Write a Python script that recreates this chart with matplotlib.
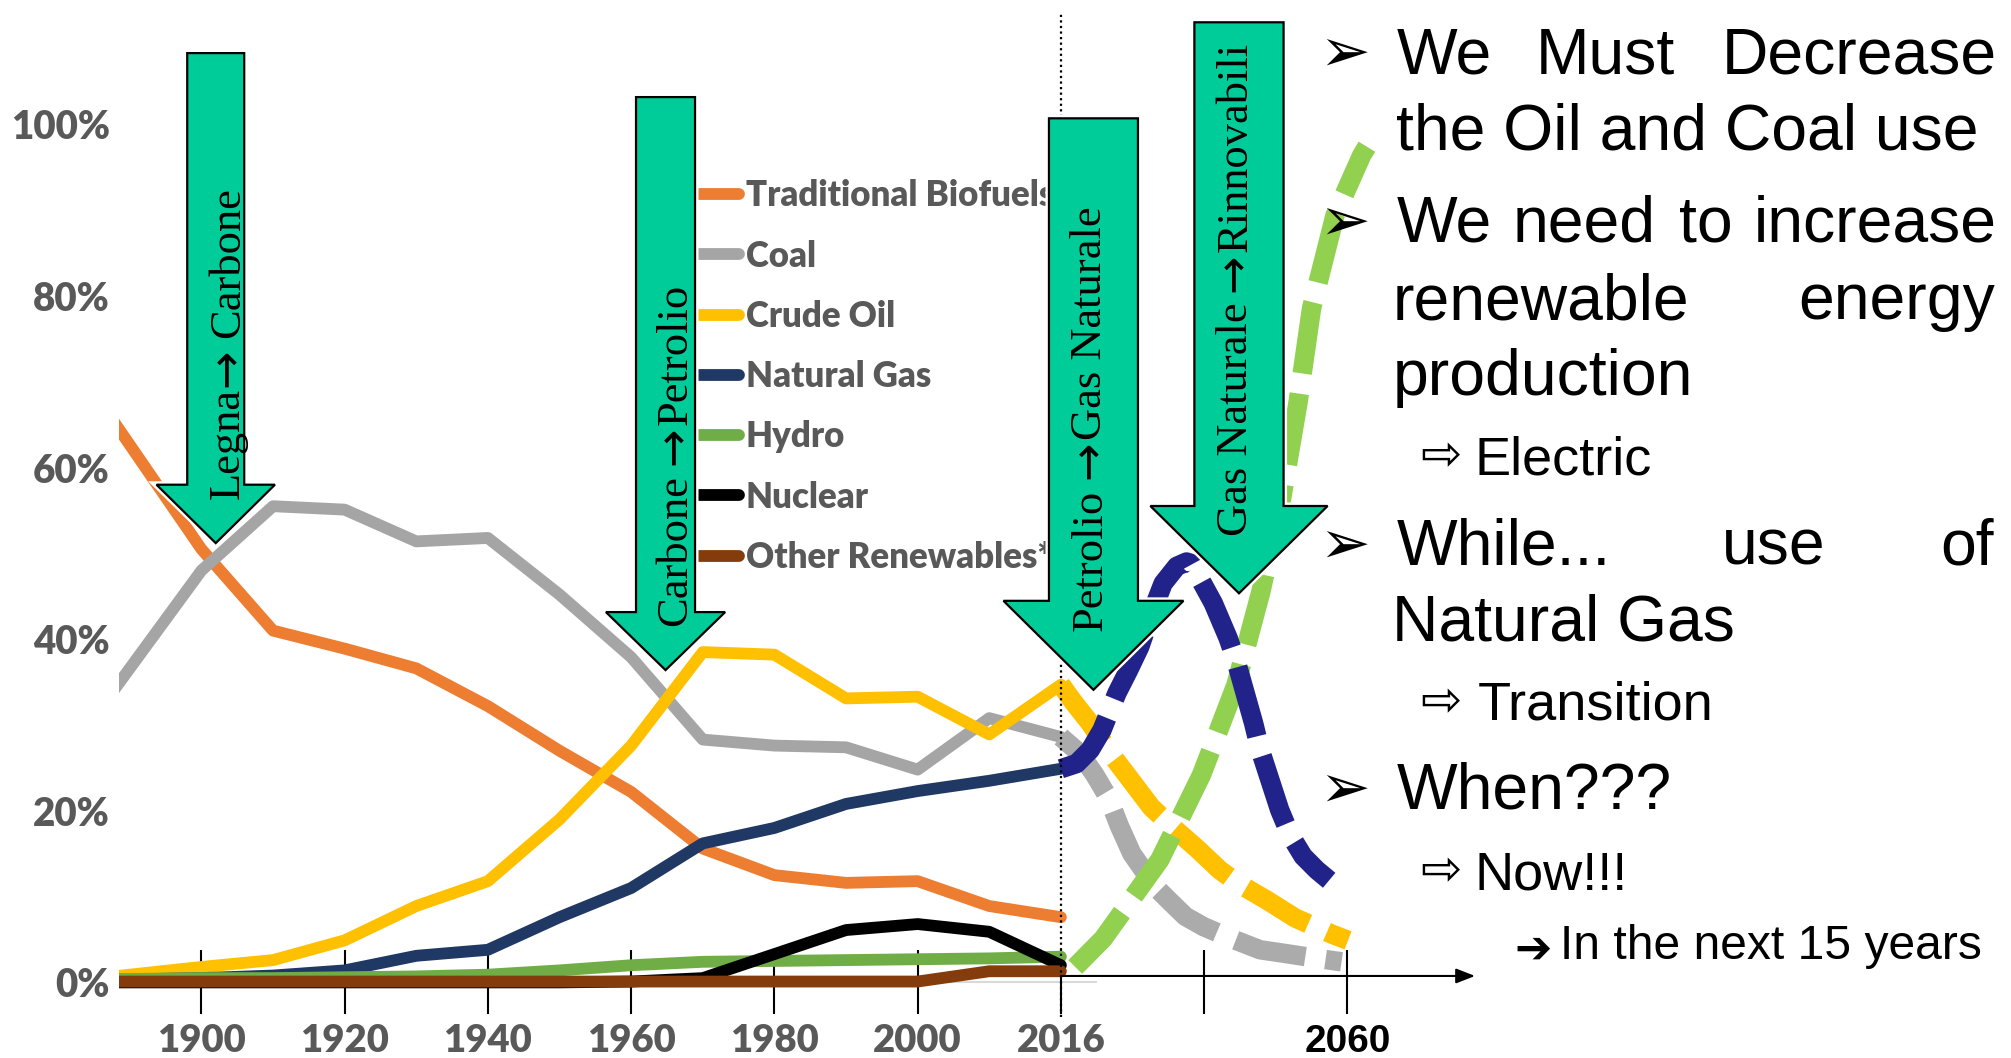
import numpy as np
import matplotlib
matplotlib.use("Agg")
import matplotlib.pyplot as plt
from matplotlib import transforms as mtransforms
from matplotlib import patheffects
from matplotlib.patches import Polygon
from matplotlib.textpath import TextPath
from matplotlib.font_manager import FontProperties

# ------------------------------------------------------------------ data
# Share of world primary energy consumption (%)
years = [1880, 1900, 1910, 1920, 1930, 1940, 1950, 1960, 1970, 1980, 1990, 2000, 2010, 2016]
traditional_biofuels = [74.8, 50.5, 41.0, 38.9, 36.6, 32.2, 27.0, 22.2, 15.6, 12.5, 11.6, 11.8, 8.9, 7.6]
coal = [25.2, 48.0, 55.5, 55.1, 51.4, 51.8, 45.2, 37.9, 28.3, 27.6, 27.4, 24.8, 30.8, 28.6]
crude_oil = [0.0, 1.8, 2.6, 4.9, 8.9, 11.8, 19.0, 27.6, 38.5, 38.2, 33.1, 33.3, 28.9, 34.7]
natural_gas = [0.2, 0.5, 0.8, 1.4, 3.1, 3.8, 7.6, 11.0, 16.2, 18.0, 20.8, 22.3, 23.5, 24.9]
hydro = [0.3, 0.5, 0.5, 0.6, 0.7, 0.9, 1.4, 2.0, 2.4, 2.5, 2.6, 2.7, 2.8, 3.0]
nuclear = [0.0, 0.0, 0.0, 0.0, 0.0, 0.0, 0.0, 0.1, 0.5, 3.3, 6.1, 6.8, 5.9, 2.0]
other_renewables = [0.1, 0.1, 0.1, 0.1, 0.1, 0.1, 0.1, 0.1, 0.1, 0.1, 0.1, 0.1, 1.3, 1.3]

series_names = ["Traditional Biofuels", "Coal", "Crude Oil", "Natural Gas",
                "Hydro", "Nuclear", "Other Renewables*"]
series_colors = ["#ED7D31", "#A5A5A5", "#FFC000", "#203864",
                 "#70AD47", "#000000", "#843C0C"]

# Transition outlook 2016-2060 (%)
coal_outlook_years = [2016.0, 2018.9, 2021.2, 2023.3, 2025.0, 2026.9, 2030.4, 2032.8,
                      2035.1, 2037.9, 2042.2, 2046.6, 2050.2, 2054.5, 2059.1]
coal_outlook = [28.6, 26.7, 24.2, 21.5, 18.2, 15.0, 11.2, 9.4,
                7.7, 6.5, 5.1, 3.8, 3.4, 2.9, 2.4]

oil_outlook_years = [2016.0, 2017.9, 2020.5, 2023.8, 2026.9, 2029.9, 2033.3, 2036.9,
                     2040.4, 2043.3, 2047.6, 2052.0, 2055.3, 2057.7, 2060.1]
oil_outlook = [34.7, 32.7, 30.2, 26.5, 23.4, 20.4, 18.0, 15.6,
               13.1, 11.5, 9.6, 7.5, 6.4, 5.6, 4.9]

renewables_outlook_years = [2018.2, 2022.5, 2031.2, 2037.6, 2042.9, 2046.7,
                            2049.9, 2052.4, 2054.5, 2058.1, 2062.2, 2063.0]
renewables_outlook = [1.8, 5.1, 14.3, 24.2, 34.7, 45.5,
                      56.4, 67.5, 78.6, 89.4, 96.4, 97.4]

gas_outlook_years = [2016.0, 2018.4, 2020.5, 2022.3, 2024.6, 2026.4, 2028.1, 2029.7,
                     2031.7, 2033.8, 2035.3, 2036.1, 2037.6, 2039.4, 2041.7, 2043.0,
                     2044.3, 2045.6, 2046.6, 2048.1, 2049.6, 2051.2, 2053.2, 2055.3, 2057.2]
gas_outlook = [24.9, 25.5, 27.1, 29.4, 33.7, 36.4, 39.1, 42.6,
               46.5, 48.5, 49.0, 48.8, 46.7, 44.2, 40.1, 37.2,
               33.7, 30.2, 27.1, 23.6, 20.1, 17.2, 14.7, 13.1, 11.9]

outlook_colors = {"coal": "#ABABAB", "oil": "#FFC000",
                  "renewables": "#92D050", "gas": "#22228B"}

tick_years = [1900, 1920, 1940, 1960, 1980, 2000, 2016, 2038, 2060]
tick_labels = ["1900", "1920", "1940", "1960", "1980", "2000", "2016", "", "2060"]
pct_ticks = [0, 20, 40, 60, 80, 100]

# Transition arrows: tip (year, %), shape in pixels, caption "from -> to"
transitions = [
    dict(tip=(1902.0, 51.2), shaft=28.5, head=59.2, head_len=58.4, length=490.0,
         src="Legna", dst="Carbone", gaps=(4, 15), tdx=23.5, tdy=199.7),
    dict(tip=(1964.8, 36.4), shaft=29.5, head=59.6, head_len=58.0, length=573.0,
         src="Carbone", dst="Petrolio", gaps=(15, 5), tdx=21.0, tdy=215.0),
    dict(tip=(2021.0, 34.1), shaft=44.5, head=90.0, head_len=89.0, length=571.5,
         src="Petrolio", dst="Gas Naturale", gaps=(15, 5), tdx=8.0, tdy=271.0),
    dict(tip=(2043.35, 45.35), shaft=44.6, head=88.6, head_len=87.3, length=571.0,
         src="Gas Naturale", dst="Rinnovabili", gaps=(15, 5), tdx=7.7, tdy=304.7),
]

# ------------------------------------------------------------------ layout
W_PX, H_PX, DPI = 2011, 1058, 100
PT2PX = DPI / 72.0
X1900_PX, PX_PER_UNIT = 201.4, 7.1625
Y0_PX, PX_PER_PCT = 982.4, 8.58
POS_LIM = (1888.5, 2090.0)
Y_LIM = (-8.0, 112.0)

# historical decades on a linear timeline, then a compressed outlook to 2060
timeline_years = [1800.0, 2010.0, 2016.0, 2060.0, 2200.0]
timeline_pos = [1800.0, 2010.0, 2020.0, 2060.0, 2060.0 + 140.0 * 40.0 / 44.0]


def to_timeline(x):
    return np.interp(x, timeline_years, timeline_pos)


def from_timeline(p):
    return np.interp(p, timeline_pos, timeline_years)


def ink(s, fp):
    e = TextPath((0, 0), s, size=100, prop=fp).get_extents()
    return e.x0, e.y0, e.x1, e.y1


def ink_px(s, fp):
    k = fp.get_size_in_points() / 100.0 * PT2PX
    return [v * k for v in ink(s, fp)]


def fit_size(s, fp, width_px):
    x0, _, x1, _ = ink(s, fp)
    return width_px / ((x1 - x0) / 100.0 * PT2PX)


fig = plt.figure(figsize=(W_PX / DPI, H_PX / DPI), dpi=DPI)
fig.patch.set_facecolor("white")

ax_left = (X1900_PX + (POS_LIM[0] - 1900) * PX_PER_UNIT) / W_PX
ax_right = (X1900_PX + (POS_LIM[1] - 1900) * PX_PER_UNIT) / W_PX
ax_bottom = 1 - (Y0_PX - Y_LIM[0] * PX_PER_PCT) / H_PX
ax_top = 1 - (Y0_PX - Y_LIM[1] * PX_PER_PCT) / H_PX
ax = fig.add_axes([ax_left, ax_bottom, ax_right - ax_left, ax_top - ax_bottom])
ax.set_xscale("function", functions=(to_timeline, from_timeline))
ax.set_xlim(from_timeline(POS_LIM[0]), from_timeline(POS_LIM[1]))
ax.set_ylim(*Y_LIM)
ax.patch.set_visible(False)
for sp in ax.spines.values():
    sp.set_visible(False)
ax.spines["bottom"].set_position(("data", 0))

LABEL_WEIGHT = "heavy"
lato_lbl = FontProperties(family="Lato", weight=LABEL_WEIGHT)
ytick_size = fit_size("100%", lato_lbl, 96)
xtick_size = fit_size("1900", lato_lbl, 86)
legend_size = fit_size("Natural Gas", lato_lbl, 182)

# ------------------------------------------------------------------ historical series
ax.hlines(0, from_timeline(POS_LIM[0]), 2021.5, colors="#D9D9D9", lw=1.5, zorder=1)
hist = [traditional_biofuels, coal, crude_oil, natural_gas, hydro, nuclear, other_renewables]
handles = []
for k, (vals, name, col) in enumerate(zip(hist, series_names, series_colors)):
    ln, = ax.plot(years, vals, color=col, lw=8.5, solid_capstyle="round",
                  solid_joinstyle="round", label=name, zorder=2 + 0.1 * k)
    handles.append(ln)

# ------------------------------------------------------------------ outlook curves
outlooks = [(coal_outlook_years, coal_outlook, outlook_colors["coal"]),
            (oil_outlook_years, oil_outlook, outlook_colors["oil"]),
            (renewables_outlook_years, renewables_outlook, outlook_colors["renewables"]),
            (gas_outlook_years, gas_outlook, outlook_colors["gas"])]
for k, (xs, ys, col) in enumerate(outlooks):
    ax.plot(xs, ys, color=col, lw=14, linestyle=(0, (3.7, 1.05)),
            dash_capstyle="butt", dash_joinstyle="round",
            zorder=3 + 0.1 * k, clip_on=False)

# "today" marker and the outlook time axis
ax.vlines(2016, -4, 113, colors="black", linestyles=(0, (1, 1.5)), lw=1.6,
          zorder=4, clip_on=False)
ax.annotate("", xy=(2079.6, 0.75), xytext=(2016, 0.75),
            arrowprops=dict(arrowstyle="-|>,head_length=1.15,head_width=0.45",
                            color="black", lw=1.5, shrinkA=0, shrinkB=0),
            annotation_clip=False, zorder=4)

# ------------------------------------------------------------------ axes ticks
ax.set_xticks(tick_years, labels=tick_labels)
ax.tick_params(axis="x", direction="inout", length=45.4, width=1.5, color="black",
               pad=7, labelsize=xtick_size, labelcolor="#595959")
for lab in ax.get_xticklabels():
    lab.set_family("Lato")
    lab.set_weight(LABEL_WEIGHT)
last = ax.get_xticklabels()[-1]
last.set_family("Liberation Sans")
last.set_weight("bold")
last.set_color("black")
last.set_size(28)

ax.set_yticks(pct_ticks, labels=[f"{v}%" for v in pct_ticks])
ax.tick_params(axis="y", length=0, pad=6.8, labelsize=ytick_size, labelcolor="#595959")
for lab in ax.get_yticklabels():
    lab.set_family("Lato")
    lab.set_weight(LABEL_WEIGHT)

# ------------------------------------------------------------------ legend
F = legend_size * PT2PX
kk = legend_size / 100.0 * PT2PX
_, lp_y0, _, lp_y1 = ink("lp", lato_lbl)
cap_h = ink("T", lato_lbl)[3] * kk
lp_h = (lp_y1 - lp_y0) * kk
top_px = 192.8 + cap_h / 2 - lp_y1 * kk
leg = ax.legend(handles=handles, loc="upper left",
                bbox_to_anchor=(699 / W_PX, 1 - top_px / H_PX),
                bbox_transform=fig.transFigure, frameon=False,
                prop=FontProperties(family="Lato", weight=LABEL_WEIGHT, size=legend_size),
                labelcolor="#595959", handlelength=40 / F, handletextpad=7 / F,
                labelspacing=(59.0 - lp_h) / F, borderpad=0, borderaxespad=0)
leg.set_zorder(5)

# ------------------------------------------------------------------ transition arrows
word_fp = FontProperties(family="Liberation Serif", size=32)
arrow_fp = FontProperties(family="DejaVu Sans", size=33)
for a in transitions:
    tx, ty = a["tip"]
    trans = fig.dpi_scale_trans + mtransforms.ScaledTranslation(tx, ty, ax.transData)
    sh, hh, hl, L = a["shaft"], a["head"], a["head_len"], a["length"]
    verts = np.array([(0, 0), (hh, hl), (sh, hl), (sh, L), (-sh, L),
                      (-sh, hl), (-hh, hl)]) / DPI
    poly = Polygon(verts, closed=True, transform=trans, facecolor="#00CC99",
                   edgecolor="black", lw=1.6, zorder=6, clip_on=False,
                   path_effects=[patheffects.withStroke(linewidth=5, foreground="white")])
    ax.add_patch(poly)

    # caption reads bottom-to-top: source word, arrow, destination word
    pieces = [(a["src"], word_fp), ("\u2192", arrow_fp), (a["dst"], word_fp)]
    exts = [ink_px(s, fp) for s, fp in pieces]
    widths = [e[2] - e[0] for e in exts]
    seps = list(a["gaps"]) + [0]
    pos = a["tdy"] - (sum(widths) + sum(a["gaps"])) / 2
    for (s, fp), e, w, g in zip(pieces, exts, widths, seps):
        ax.text(a["tdx"] / DPI, (pos - e[0]) / DPI, s, transform=trans,
                rotation=90, rotation_mode="anchor", ha="left", va="baseline",
                fontproperties=fp, color="black", zorder=7, clip_on=False)
        pos += w + g

# ------------------------------------------------------------------ bullet text
sans = FontProperties(family="Liberation Sans")
main_fp = FontProperties(family="Liberation Sans",
                         size=fit_size("the Oil and Coal use", sans, 578))
sub_fp = FontProperties(family="Liberation Sans", size=fit_size("Transition", sans, 231))
small_fp = FontProperties(family="Liberation Sans",
                          size=fit_size("In the next 15 years", sans, 416))


def put(s, fp, left_px, baseline_px):
    x0 = ink_px(s, fp)[0]
    fig.text((left_px - x0) / W_PX, 1 - baseline_px / H_PX, s, fontproperties=fp,
             ha="left", va="baseline", color="black", zorder=10)


def put_justified(words, fp, left_px, right_px, baseline_px):
    widths = [ink_px(w, fp)[2] - ink_px(w, fp)[0] for w in words]
    gap = (right_px - left_px - sum(widths)) / (len(words) - 1)
    x = left_px
    for w, wd in zip(words, widths):
        put(w, fp, x, baseline_px)
        x += wd + gap


def put_glyph(s, left_px, center_px, width_px):
    base = FontProperties(family="DejaVu Sans")
    fp = FontProperties(family="DejaVu Sans", size=fit_size(s, base, width_px))
    x0, y0, x1, y1 = ink_px(s, fp)
    baseline = center_px + (y0 + y1) / 2
    fig.text((left_px - x0) / W_PX, 1 - baseline / H_PX, s, fontproperties=fp,
             ha="left", va="baseline", color="black", zorder=10)


L_TXT, R_TXT = 1397.0, 1994.0
BUL_X, BUL_W, BUL_UP = 1326.0, 41.0, 21.3
SUB_X, SUB_W, SUB_UP, SUB_TXT = 1422.4, 37.2, 19.0, 1479.0

put_glyph("\u27a2", BUL_X, 73 - BUL_UP, BUL_W)
put_justified(["We", "Must", "Decrease"], main_fp, L_TXT, R_TXT, 73)
put("the Oil and Coal use", main_fp, L_TXT, 150)

put_glyph("\u27a2", BUL_X, 242 - BUL_UP, BUL_W)
put_justified(["We", "need", "to", "increase"], main_fp, L_TXT, R_TXT, 242)
put_justified(["renewable", "energy"], main_fp, L_TXT, R_TXT, 319)
put("production", main_fp, L_TXT, 395.5)
put_glyph("\u21e8", SUB_X, 474 - SUB_UP, SUB_W)
put("Electric", sub_fp, SUB_TXT, 474)

put_glyph("\u27a2", BUL_X, 564.5 - BUL_UP, BUL_W)
put_justified(["While...", "use", "of"], main_fp, L_TXT, R_TXT, 564.5)
put("Natural Gas", main_fp, L_TXT, 640.5)
put_glyph("\u21e8", SUB_X, 719.3 - SUB_UP, SUB_W)
put("Transition", sub_fp, SUB_TXT, 719.3)

put_glyph("\u27a2", BUL_X, 808.5 - BUL_UP, BUL_W)
put("When???", main_fp, L_TXT, 808.5)
put_glyph("\u21e8", SUB_X, 889 - SUB_UP, SUB_W)
put("Now!!!", sub_fp, SUB_TXT, 889)
put_glyph("\u2794", 1516.8, 959 - 10, 32.6)
put("In the next 15 years", small_fp, 1564.4, 959)

fig.savefig("out.png", dpi=DPI, facecolor="white")
